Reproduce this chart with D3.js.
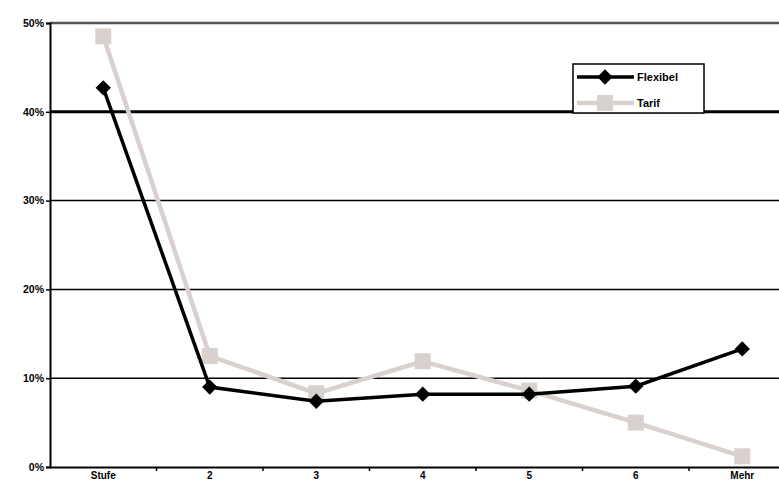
<!DOCTYPE html>
<html>
<head>
<meta charset="utf-8">
<script src="https://cdn.jsdelivr.net/npm/d3@7"></script>
<style>
  body { margin: 0; background: #fff; }
  svg text { font-family: "Liberation Sans", Arial, sans-serif; font-weight: bold; }
</style>
</head>
<body>
<div id="container"></div>
<script>
// chart data
const categories = ["Stufe", "2", "3", "4", "5", "6", "Mehr"];
const flexibel = [0.427, 0.090, 0.074, 0.082, 0.082, 0.091, 0.133];
const tarif = [0.485, 0.125, 0.083, 0.119, 0.086, 0.050, 0.012];
const yTicks = [0, 0.1, 0.2, 0.3, 0.4, 0.5];
const seriesNames = ["Flexibel", "Tarif"];

const width = 779;
const height = 484;
const marginLeft = 50;
const marginTop = 23;
const plotBottom = 467;
const band = 106.5;

const svg = d3.select("#container")
  .append("svg")
  .attr("width", width)
  .attr("height", height);

const x = d3.scaleBand()
  .domain(categories)
  .range([marginLeft, marginLeft + band * categories.length])
  .paddingInner(0).paddingOuter(0);

const y = d3.scaleLinear()
  .domain([0, 0.5])
  .range([plotBottom, marginTop]);

const cx = d => x(d) + x.bandwidth() / 2;

// horizontal grid lines
svg.append("g")
  .selectAll("line")
  .data(yTicks.filter(d => d > 0))
  .join("line")
  .attr("x1", marginLeft)
  .attr("x2", width)
  .attr("y1", d => y(d))
  .attr("y2", d => y(d))
  .attr("stroke", d => d === 0.5 ? "#555" : "#000")
  .attr("stroke-width", d => d === 0.4 ? 3 : (d === 0.5 ? 2.5 : 1.5));

// y axis
const yAxis = d3.axisLeft(y)
  .tickValues(yTicks)
  .tickFormat(d3.format(".0%"))
  .tickSize(4)
  .tickPadding(2);

svg.append("g")
  .attr("transform", `translate(${marginLeft},0)`)
  .call(yAxis)
  .call(g => g.select(".domain").attr("stroke", "#000").attr("stroke-width", 2))
  .call(g => g.selectAll(".tick line").attr("stroke", "#000").attr("stroke-width", 1.5))
  .call(g => g.selectAll("text").attr("font-size", 10.5).attr("fill", "#000"));

// x axis
const xAxis = d3.axisBottom(x)
  .tickSize(0)
  .tickPadding(5);

svg.append("g")
  .attr("transform", `translate(0,${plotBottom})`)
  .call(xAxis)
  .call(g => g.select(".domain").attr("stroke", "#000").attr("stroke-width", 2))
  .call(g => g.selectAll("text").attr("font-size", 10).attr("fill", "#000"));

// x tick marks between categories
svg.append("g")
  .selectAll("line")
  .data(categories.slice(1))
  .join("line")
  .attr("x1", d => x(d))
  .attr("x2", d => x(d))
  .attr("y1", plotBottom)
  .attr("y2", plotBottom + 4)
  .attr("stroke", "#000")
  .attr("stroke-width", 1.5);

// lines
const line = d3.line()
  .x((d, i) => cx(categories[i]))
  .y(d => y(d));

svg.append("path")
  .datum(tarif)
  .attr("fill", "none")
  .attr("stroke", "#d9d1ce")
  .attr("stroke-width", 4.5)
  .attr("d", line);

svg.append("g")
  .selectAll("rect")
  .data(tarif)
  .join("rect")
  .attr("x", (d, i) => cx(categories[i]) - 8)
  .attr("y", d => y(d) - 8)
  .attr("width", 16)
  .attr("height", 16)
  .attr("fill", "#d9d1ce");

svg.append("path")
  .datum(flexibel)
  .attr("fill", "none")
  .attr("stroke", "#000")
  .attr("stroke-width", 3.5)
  .attr("d", line);

const diamond = d3.symbol().type(d3.symbolDiamond2).size(150);

svg.append("g")
  .selectAll("path")
  .data(flexibel)
  .join("path")
  .attr("transform", (d, i) => `translate(${cx(categories[i])},${y(d)})`)
  .attr("d", diamond)
  .attr("fill", "#000");

// legend
const legend = svg.append("g").attr("transform", "translate(573,64)");

legend.append("rect")
  .attr("width", 131)
  .attr("height", 49)
  .attr("fill", "#fff")
  .attr("stroke", "#000")
  .attr("stroke-width", 1.5);

const items = legend.selectAll("g.item")
  .data(seriesNames)
  .join("g")
  .attr("class", "item")
  .attr("transform", (d, i) => `translate(0,${13 + i * 26})`);

items.append("line")
  .attr("x1", 4)
  .attr("x2", 61)
  .attr("stroke", (d, i) => i === 0 ? "#000" : "#d9d1ce")
  .attr("stroke-width", (d, i) => i === 0 ? 3.5 : 4.5);

items.filter((d, i) => i === 0)
  .append("path")
  .attr("transform", "translate(32,0)")
  .attr("d", diamond)
  .attr("fill", "#000");

items.filter((d, i) => i === 1)
  .append("rect")
  .attr("x", 24).attr("y", -8)
  .attr("width", 16).attr("height", 16)
  .attr("fill", "#d9d1ce");

items.append("text")
  .attr("x", 64)
  .attr("dy", "0.35em")
  .attr("font-size", 11)
  .text(d => d);
</script>
</body>
</html>
